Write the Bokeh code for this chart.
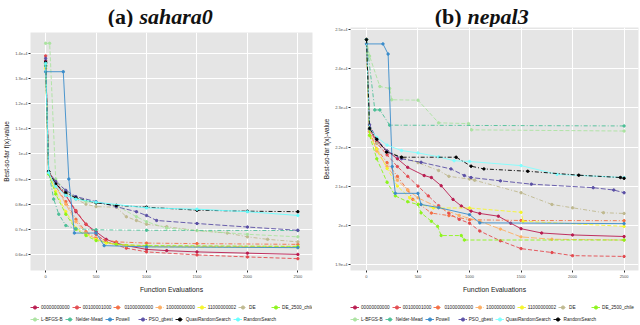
from bokeh.plotting import figure
from bokeh.models import Range1d, FixedTicker, Legend, LegendItem, ColumnDataSource
from bokeh.core.properties import value
from bokeh.layouts import row, column
from bokeh.embed import file_html
from bokeh.resources import INLINE

# ---------------- data ----------------
series_names = ["00000000000", "00100001000", "01000000000", "10000000000", "11000000002",
                "DE", "DE_2500_chile", "L-BFGS-B", "Nelder-Mead", "Powell", "PSO_gbest",
                "QuasiRandomSearch", "RandomSearch"]

x_ticks = [0, 500, 1000, 1500, 2000, 2500]
sahara_y_ticks = [6000, 7000, 8000, 9000, 10000, 11000, 12000, 13000, 14000]
sahara_y_labels = ["0.6e+4", "0.7e+4", "0.8e+4", "0.9e+4", "1e+4", "1.1e+4", "1.2e+4", "1.3e+4", "1.4e+4"]
nepal_y_ticks = [19000, 20000, 21000, 22000, 23000, 24000, 25000]
nepal_y_labels = ["1.9e+4", "2e+4", "2.1e+4", "2.2e+4", "2.3e+4", "2.4e+4", "2.5e+4"]

# (a) sahara0
sahara_s00_x = [0, 30, 100, 200, 300, 400, 500, 600, 700, 800, 1000, 1200, 1500, 2000, 2500]
sahara_s00_y = [13700, 9300, 8800, 8350, 7700, 7200, 6900, 6600, 6450, 6350, 6200, 6150, 6100, 6050, 6000]
sahara_s01_x = [0, 30, 100, 200, 300, 400, 500, 600, 800, 1000, 1500, 2000, 2500]
sahara_s01_y = [13900, 9300, 8850, 8350, 7750, 7200, 6800, 6500, 6250, 6100, 5980, 5900, 5830]
sahara_s02_x = [0, 30, 100, 200, 300, 400, 500, 700, 1000, 1500, 2500]
sahara_s02_y = [13600, 9250, 8700, 8100, 7400, 6900, 6650, 6500, 6450, 6430, 6400]
sahara_s03_x = [0, 30, 100, 200, 300, 400, 500, 700, 1000, 2500]
sahara_s03_y = [13500, 9250, 8700, 8000, 7300, 6850, 6600, 6400, 6330, 6300]
sahara_s04_x = [0, 30, 100, 200, 300, 400, 500, 600, 800, 1000, 2500]
sahara_s04_y = [13400, 9200, 8500, 7700, 7050, 6800, 6600, 6450, 6350, 6300, 6270]
sahara_de_x = [0, 30, 100, 200, 300, 400, 500, 700, 800, 900, 1000, 1200, 1500, 1800, 2000, 2200, 2500]
sahara_de_y = [13600, 9300, 8800, 8450, 8200, 8000, 7900, 7880, 7500, 7350, 7200, 7100, 6950, 6850, 6700, 6600, 6500]
sahara_chile_x = [0, 30, 100, 200, 300, 400, 500, 700, 1000, 2500]
sahara_chile_y = [13500, 9200, 8400, 7600, 7000, 6750, 6550, 6400, 6350, 6320]
sahara_lbfgsb_x = [0, 40, 100, 200, 300, 400, 500, 700, 900, 1000, 1200, 1500, 2000, 2500]
sahara_lbfgsb_y = [14400, 14400, 9000, 8500, 8250, 8100, 8050, 7950, 7500, 7300, 7050, 6950, 6800, 6700]
sahara_nm_x = [0, 30, 80, 130, 200, 300, 500, 1000, 2500]
sahara_nm_y = [13500, 9300, 8200, 7600, 7150, 7020, 6980, 6960, 6950]
sahara_powell_x = [0, 175, 230, 285, 500, 580, 1000, 2500]
sahara_powell_y = [13270, 13270, 9000, 6850, 6850, 6350, 6300, 6270]
sahara_pso_x = [0, 30, 100, 200, 300, 500, 700, 900, 1000, 1100, 1500, 2000, 2500]
sahara_pso_y = [13800, 9300, 8900, 8550, 8300, 8100, 7900, 7700, 7550, 7350, 7230, 7090, 6960]
sahara_qrs_x = [0, 30, 100, 200, 300, 500, 700, 1000, 1500, 2000, 2500]
sahara_qrs_y = [13650, 9300, 8800, 8450, 8250, 8050, 7950, 7880, 7760, 7720, 7700]
sahara_rs_x = [0, 30, 100, 200, 300, 500, 1000, 1500, 2000, 2500]
sahara_rs_y = [13600, 9250, 8700, 8350, 8200, 8080, 7850, 7800, 7700, 7550]

# (b) nepal3
nepal_s00_x = [0, 30, 100, 200, 300, 400, 560, 630, 725, 840, 920, 1015, 1100, 1280, 1400, 1500, 1700, 2000, 2500]
nepal_s00_y = [24750, 22450, 22150, 21900, 21700, 21480, 21270, 21220, 21010, 20660, 20490, 20360, 20300, 20230, 20050, 19910, 19800, 19750, 19710]
nepal_s01_x = [0, 30, 100, 200, 300, 400, 500, 600, 700, 800, 900, 1000, 1100, 1300, 1500, 1800, 2000, 2500]
nepal_s01_y = [24750, 22450, 22100, 21800, 21500, 21250, 21000, 20750, 20500, 20300, 20150, 20050, 19850, 19600, 19400, 19300, 19220, 19200]
nepal_s02_x = [0, 30, 100, 200, 300, 400, 450, 630, 800, 1000, 1500, 2500]
nepal_s02_y = [24750, 22400, 21950, 21600, 21250, 20900, 20660, 20310, 20245, 20140, 20120, 20115]
nepal_s03_x = [0, 30, 100, 200, 300, 400, 500, 700, 900, 1100, 1300, 1500, 1800, 2500]
nepal_s03_y = [24750, 22400, 21900, 21500, 21150, 20900, 20700, 20450, 20250, 20100, 19900, 19700, 19640, 19620]
nepal_s04_x = [0, 30, 100, 200, 300, 420, 530, 650, 1000, 1500, 1520, 2500]
nepal_s04_y = [24750, 22300, 21950, 21450, 21000, 20700, 20530, 20440, 20440, 20330, 20100, 19970]
nepal_de_x = [0, 30, 100, 200, 340, 500, 700, 800, 1000, 1050, 1500, 1800, 2000, 2300, 2500]
nepal_de_y = [24750, 22450, 22100, 21900, 21740, 21600, 21400, 21250, 21180, 21150, 20830, 20530, 20445, 20320, 20300]
nepal_chile_x = [0, 30, 100, 200, 280, 400, 500, 530, 630, 690, 725, 920, 950, 2500]
nepal_chile_y = [24750, 22300, 21700, 21100, 20750, 20600, 20530, 20315, 20100, 19970, 19735, 19735, 19620, 19620]
nepal_lbfgsb_x = [0, 30, 130, 225, 245, 500, 700, 990, 1020, 2500]
nepal_lbfgsb_y = [24750, 24330, 23550, 23500, 23210, 23200, 22620, 22600, 22440, 22410]
nepal_nm_x = [0, 81, 130, 225, 2500]
nepal_nm_y = [24750, 22950, 22950, 22560, 22540]
nepal_powell_x = [0, 160, 210, 250, 280, 500, 530, 700, 1000, 1100, 2500]
nepal_powell_y = [24640, 24640, 24380, 21500, 20815, 20815, 20530, 20450, 20270, 20060, 20040]
nepal_pso_x = [0, 30, 100, 200, 340, 530, 820, 950, 1015, 1300, 1600, 2200, 2400, 2500]
nepal_pso_y = [24750, 22570, 22200, 21900, 21700, 21610, 21440, 21270, 21220, 21135, 21050, 20960, 20900, 20830]
nepal_qrs_x = [0, 30, 100, 200, 340, 500, 700, 850, 1000, 1500, 1850, 2500]
nepal_qrs_y = [24750, 22470, 22250, 22050, 21910, 21850, 21750, 21650, 21630, 21525, 21300, 21220]
nepal_rs_x = [0, 30, 100, 195, 340, 870, 1015, 1140, 1565, 2060, 2465, 2500]
nepal_rs_y = [24750, 22475, 22200, 21870, 21740, 21740, 21510, 21440, 21380, 21280, 21220, 21200]

sahara_xs = [sahara_s00_x, sahara_s01_x, sahara_s02_x, sahara_s03_x, sahara_s04_x, sahara_de_x, sahara_chile_x,
             sahara_lbfgsb_x, sahara_nm_x, sahara_powell_x, sahara_pso_x, sahara_qrs_x, sahara_rs_x]
sahara_ys = [sahara_s00_y, sahara_s01_y, sahara_s02_y, sahara_s03_y, sahara_s04_y, sahara_de_y, sahara_chile_y,
             sahara_lbfgsb_y, sahara_nm_y, sahara_powell_y, sahara_pso_y, sahara_qrs_y, sahara_rs_y]
nepal_xs = [nepal_s00_x, nepal_s01_x, nepal_s02_x, nepal_s03_x, nepal_s04_x, nepal_de_x, nepal_chile_x,
            nepal_lbfgsb_x, nepal_nm_x, nepal_powell_x, nepal_pso_x, nepal_qrs_x, nepal_rs_x]
nepal_ys = [nepal_s00_y, nepal_s01_y, nepal_s02_y, nepal_s03_y, nepal_s04_y, nepal_de_y, nepal_chile_y,
            nepal_lbfgsb_y, nepal_nm_y, nepal_powell_y, nepal_pso_y, nepal_qrs_y, nepal_rs_y]

# ---------------- styles ----------------
base_colors = ["#BA1C50", "#E34A4F", "#F46D43", "#FDAE61", "#F5F52A", "#BFB98F", "#8CF51A",
               "#ABE3A0", "#4CBF97", "#3A8CCB", "#5A4FA5"]
sahara_colors = base_colors + ["#000000", "#66FFFF"]
nepal_colors = base_colors + ["#80FFFF", "#000000"]
base_dashes = ["solid", "4 2", "4 2 1 2", "6 2", "4 2", "4 2 1 2", "4 2", "4 2", "4 2 1 2", "solid", "5 2"]
sahara_dashes = base_dashes + ["4 2 1 2", "solid"]
nepal_dashes = base_dashes + ["solid", "4 2 1 2"]

SANS = "Liberation Sans"
SERIF = "Liberation Serif"
TITLE_H, MAIN_H, LEG_H = 27, 270, 28


def bare(width, height, xr, yr):
    f = figure(width=width, height=height, output_backend="svg", toolbar_location=None,
               x_range=Range1d(*xr), y_range=Range1d(*yr), x_axis_type=None, y_axis_type=None,
               min_border=0, min_border_left=0, min_border_right=0,
               min_border_top=0, min_border_bottom=0)
    f.grid.visible = False
    f.outline_line_color = None
    f.background_fill_color = "white"
    f.border_fill_color = "white"
    return f


def make_title(tag, name, width, x_rng, junction):
    t = bare(width, TITLE_H, x_rng, (0, TITLE_H))
    t.text(x=[junction], y=[11], text=[tag], x_offset=-3, text_align="right", text_baseline="alphabetic",
           text_font=value(SERIF), text_font_style="bold", text_font_size="22px", text_color="#111111")
    t.text(x=[junction], y=[11], text=[name], x_offset=3, text_align="left", text_baseline="alphabetic",
           text_font=value(SERIF), text_font_style="bold italic", text_font_size="22px", text_color="#111111")
    return t


def legend_row(items, loc):
    return Legend(items=items, orientation="horizontal", location=loc,
                  label_text_font=SANS, label_text_font_size="4.7px", label_text_color="#222222",
                  glyph_width=9, glyph_height=8, label_height=8, label_standoff=2,
                  spacing=2, padding=0, margin=0, border_line_color=None,
                  background_fill_alpha=0)


def make_legend(colors, dashes, width, x_rng):
    f = bare(width, LEG_H, x_rng, (0, 1))
    items = []
    for nm, c, d in zip(series_names, colors, dashes):
        # legend key proxies (kept outside the visible range)
        lr = f.line(x=[x_rng[0]], y=[-5], line_color=c, line_width=0.9, line_dash=d)
        sr = f.scatter(x=[x_rng[0]], y=[-5], size=2.4, color=c, marker="circle")
        items.append(LegendItem(label=nm, renderers=[lr, sr]))
    f.add_layout(legend_row(items[:7], (0, 14)))
    f.add_layout(legend_row(items[7:], (0, 2)))
    return f


def make_panel(xs, ys, colors, dashes, x_rng, y_rng, y_ticks, y_labels, width, min_left, min_right, min_top):
    p = figure(width=width, height=MAIN_H, output_backend="svg", toolbar_location=None,
               x_range=Range1d(*x_rng), y_range=Range1d(*y_rng),
               min_border_left=min_left, min_border_right=min_right, min_border_top=min_top,
               min_border_bottom=27)
    p.background_fill_color = "#E5E5E5"
    p.border_fill_color = "white"
    p.outline_line_color = None
    p.grid.grid_line_color = "white"
    p.grid.grid_line_width = 1
    p.xaxis.ticker = FixedTicker(ticks=x_ticks)
    p.yaxis.ticker = FixedTicker(ticks=y_ticks)
    p.yaxis.major_label_overrides = {t: l for t, l in zip(y_ticks, y_labels)}
    p.xaxis.axis_label = "Function Evaluations"
    p.yaxis.axis_label = "Best-so-far f(x)-value"
    for ax in (p.xaxis[0], p.yaxis[0]):
        ax.axis_line_color = None
        ax.major_tick_line_color = "#333333"
        ax.major_tick_in = 0
        ax.major_tick_out = 2
        ax.minor_tick_line_color = None
        ax.major_label_text_font = SANS
        ax.major_label_text_font_size = "4px"
        ax.major_label_text_color = "#4D4D4D"
        ax.major_label_standoff = 2
        ax.axis_label_text_font = SANS
        ax.axis_label_text_font_style = "normal"
        ax.axis_label_text_color = "#222222"
    p.xaxis.axis_label_text_font_size = "6.8px"
    p.xaxis.axis_label_standoff = 5
    p.yaxis.axis_label_text_font_size = "6.5px"
    p.yaxis.axis_label_standoff = 2
    p.yaxis.major_label_standoff = 1

    for x, y, c, d in zip(xs, ys, colors, dashes):
        src = ColumnDataSource(dict(x=x, y=y))
        p.line("x", "y", source=src, line_color=c, line_width=0.9, line_dash=d)
        p.scatter("x", "y", source=src, size=2.4, color=c, marker="circle")
    return p


W1, W2 = 320, 320
SA_X, SA_Y = (-150, 2645), (5360, 14830)
NE_X, NE_Y = (-155, 2640), (18840, 25060)
left = column(
    make_title("(a)", "sahara0", W1, SA_X, 900),
    make_panel(sahara_xs, sahara_ys, sahara_colors, sahara_dashes, SA_X, SA_Y,
               sahara_y_ticks, sahara_y_labels, W1, 0, 8, 5),
    make_legend(sahara_colors, sahara_dashes, W1, SA_X),
    spacing=0)
right = column(
    make_title("(b)", "nepal3", W2, NE_X, 952),
    make_panel(nepal_xs, nepal_ys, nepal_colors, nepal_dashes, NE_X, NE_Y,
               nepal_y_ticks, nepal_y_labels, W2, 29, 2, 0),
    make_legend(nepal_colors, nepal_dashes, W2, NE_X),
    spacing=0)

layout = row(left, right, spacing=0)
open("out.html", "w").write(file_html(layout, INLINE))
